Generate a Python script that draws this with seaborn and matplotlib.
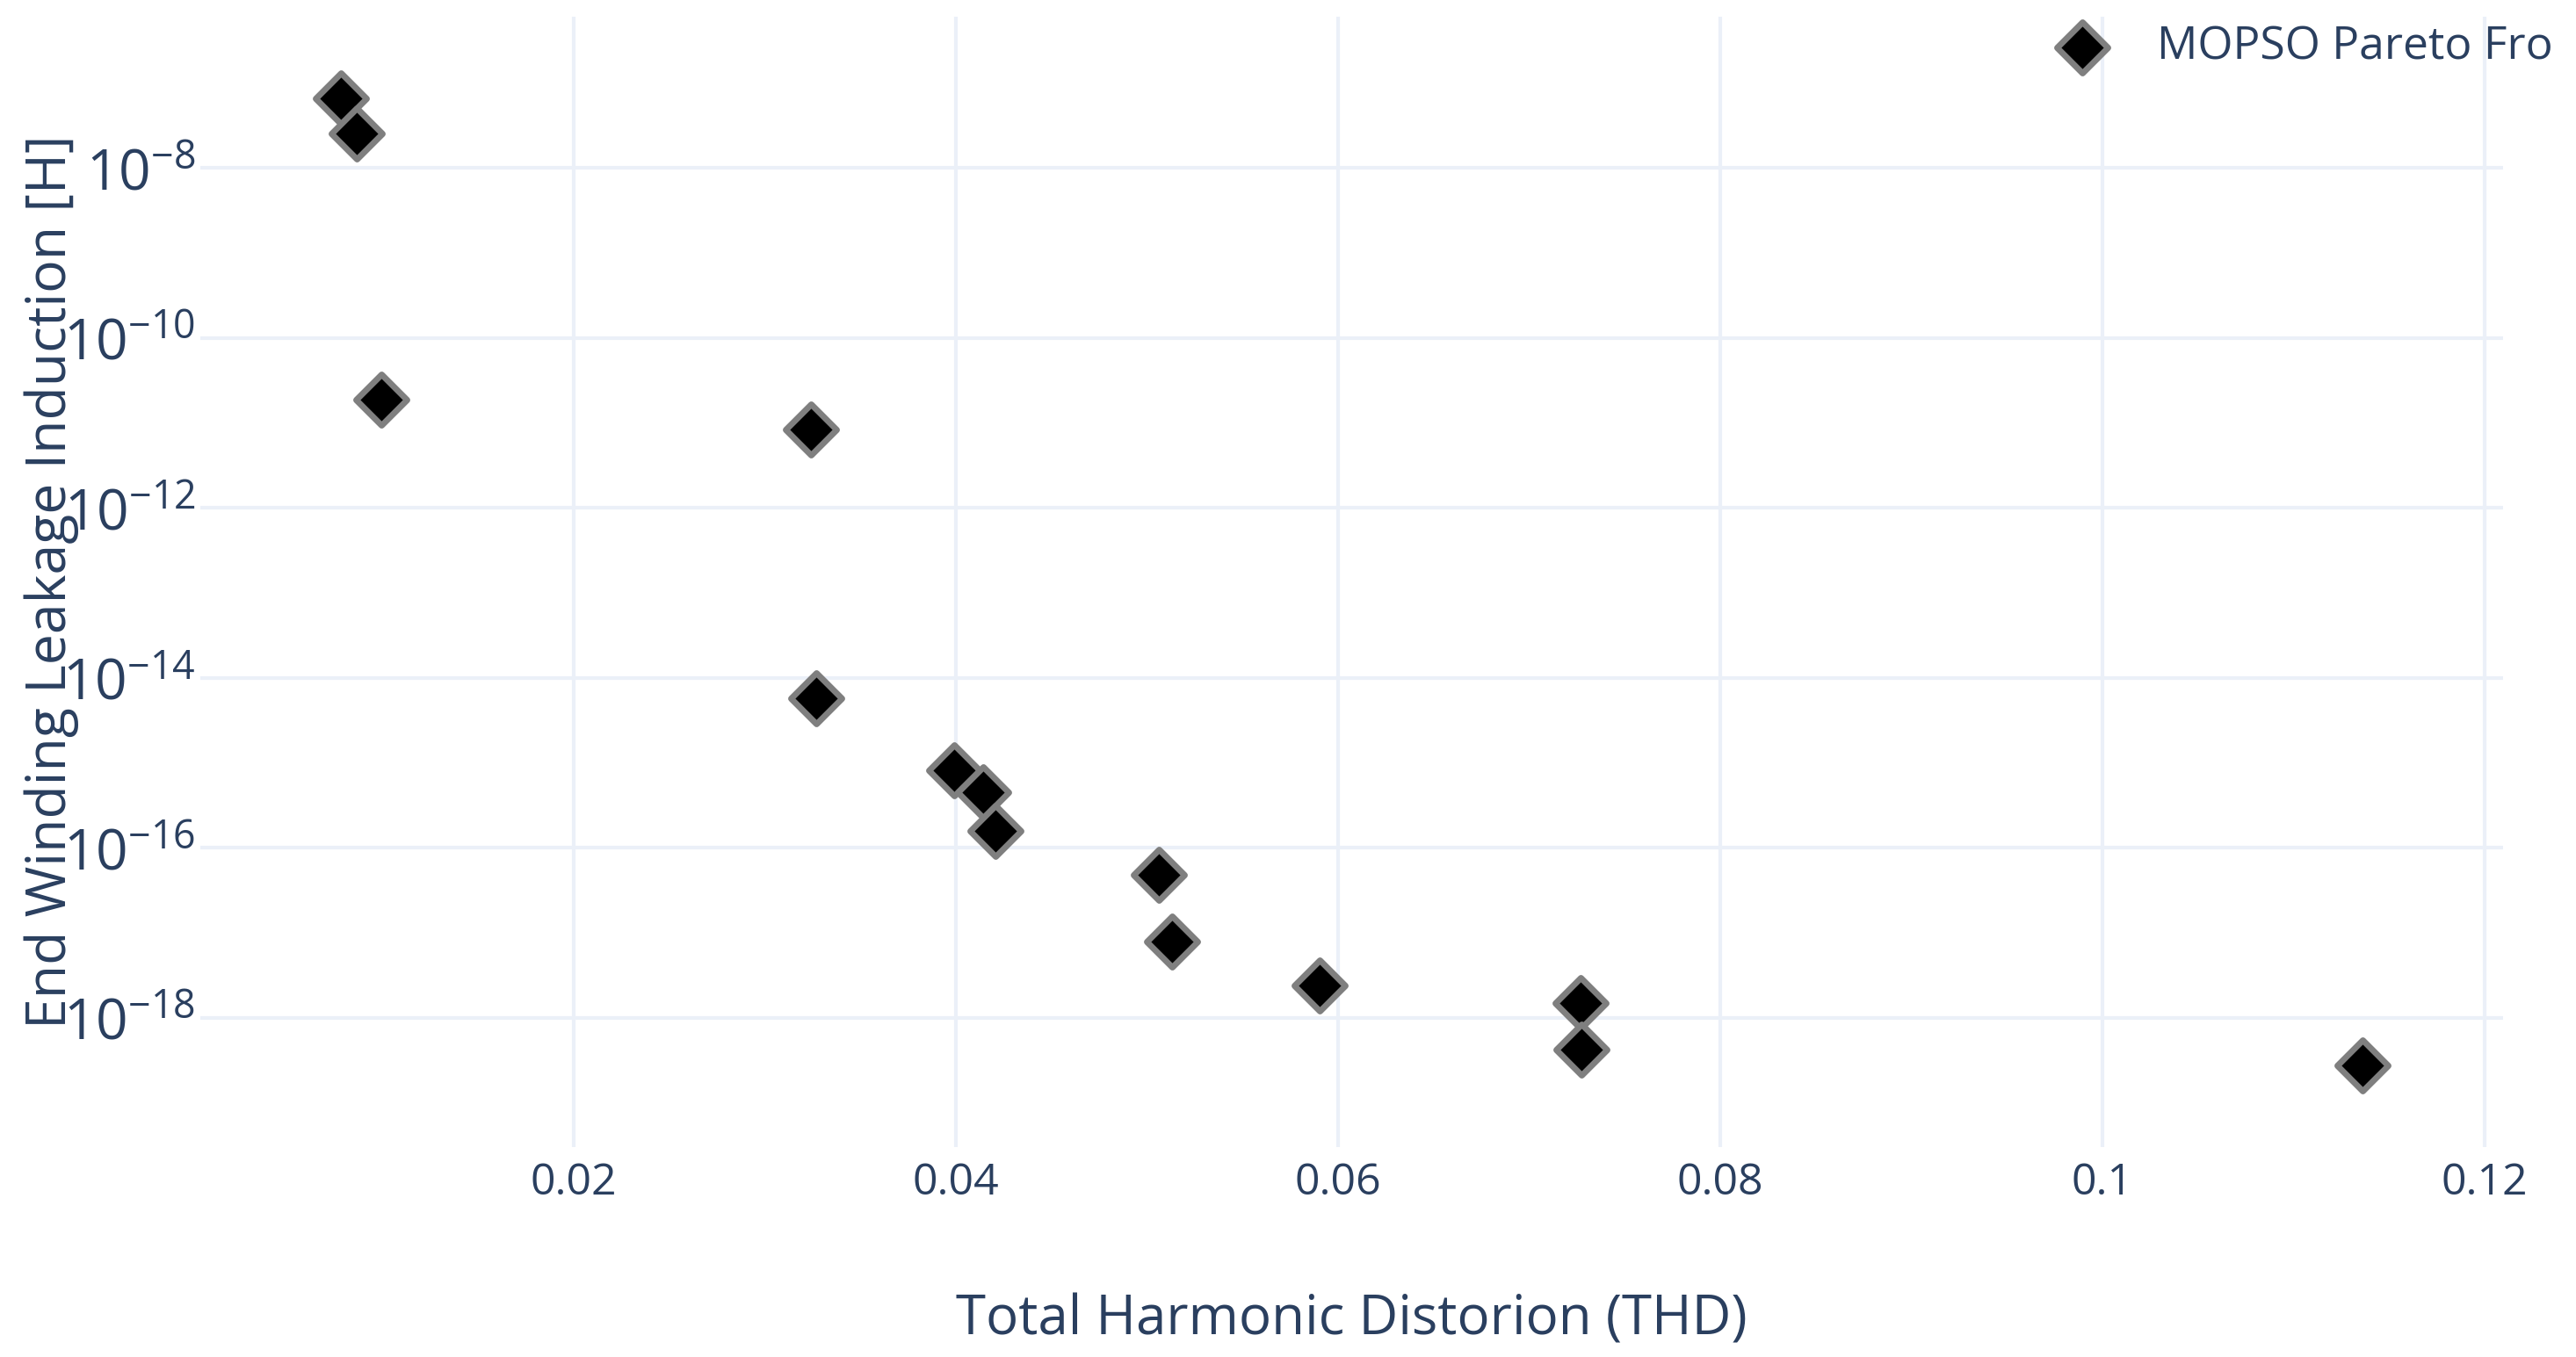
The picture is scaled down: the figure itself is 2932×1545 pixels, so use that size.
import pandas as pd
import seaborn as sns
import matplotlib.pyplot as plt

# Pareto-Front Werte
thd = [0.00780, 0.00864, 0.00993, 0.03243, 0.03268, 0.03992, 0.04143,
       0.04206, 0.05063, 0.05132, 0.05903, 0.07268, 0.07275, 0.11361]
leakage = [6.50e-8, 2.55e-8, 1.87e-11, 8.28e-12, 5.71e-15, 8.19e-16, 4.49e-16,
           1.57e-16, 4.83e-17, 7.92e-18, 2.39e-18, 1.48e-18, 4.25e-19, 2.79e-19]

x_ticks = [0.02, 0.04, 0.06, 0.08, 0.10, 0.12]
x_tick_labels = ["0.02", "0.04", "0.06", "0.08", "0.1", "0.12"]
y_ticks = [1e-18, 1e-16, 1e-14, 1e-12, 1e-10, 1e-8]
y_tick_labels = [r"$10^{-18}$", r"$10^{-16}$", r"$10^{-14}$",
                 r"$10^{-12}$", r"$10^{-10}$", r"$10^{-8}$"]

series_label = "MOPSO Pareto Fro"
x_label = "Total Harmonic Distorion (THD)"
y_label = "End Winding Leakage Induction [H]"

TEXT = "#2a3f5f"
GRID = "#ebf0f8"

sns.set_theme(style="white")
plt.rcParams["font.family"] = ["Open Sans", "DejaVu Sans"]
plt.rcParams["mathtext.fontset"] = "custom"
plt.rcParams["mathtext.rm"] = "Open Sans"
plt.rcParams["mathtext.it"] = "Open Sans:italic"
plt.rcParams["mathtext.bf"] = "Open Sans:bold"

df = pd.DataFrame({"thd": thd, "leakage": leakage})

fig = plt.figure(figsize=(14.66, 7.725), dpi=200)
ax = fig.add_axes([0.07776, 0.15469, 0.97169 - 0.07776, 0.98770 - 0.15469])

sns.scatterplot(data=df, x="thd", y="leakage", ax=ax, marker="D", s=218,
                color="black", edgecolor="#7f7f7f", linewidth=2.5,
                label=series_label, zorder=3)

ax.set_yscale("log")
ax.set_xlim(0.00046, 0.12097)
ax.set_ylim(10 ** -19.52, 10 ** -6.223)

ax.set_xticks(x_ticks)
ax.set_xticklabels(x_tick_labels)
ax.set_yticks(y_ticks)
ax.set_yticklabels(y_tick_labels)
ax.minorticks_off()

ax.tick_params(axis="x", length=0, pad=5.8, labelsize=18, labelcolor=TEXT)
ax.tick_params(axis="y", length=0, pad=2, labelsize=23, labelcolor=TEXT)

ax.grid(True, color=GRID, linewidth=1.5, zorder=0)
ax.set_axisbelow(True)
for sp in ax.spines.values():
    sp.set_visible(False)

ax.set_xlabel(x_label, fontsize=22.3, color=TEXT)
ax.xaxis.set_label_coords(0.5, -0.153)
ax.xaxis.label.set_va("center")
ax.set_ylabel(y_label, fontsize=22.5, color=TEXT)
ax.yaxis.set_label_coords(-0.0645, 0.5)
ax.yaxis.label.set_va("center")

leg = ax.legend(loc="center left", bbox_to_anchor=(2344 / 2932, 1 - 54 / 1545),
                bbox_transform=fig.transFigure, frameon=False, fontsize=18.6,
                handlelength=1.0, handletextpad=1.15, borderpad=0,
                borderaxespad=0, markerscale=1.0)
for t in leg.get_texts():
    t.set_color(TEXT)

fig.savefig("out.png", dpi=200, facecolor="white")
plt.close(fig)
